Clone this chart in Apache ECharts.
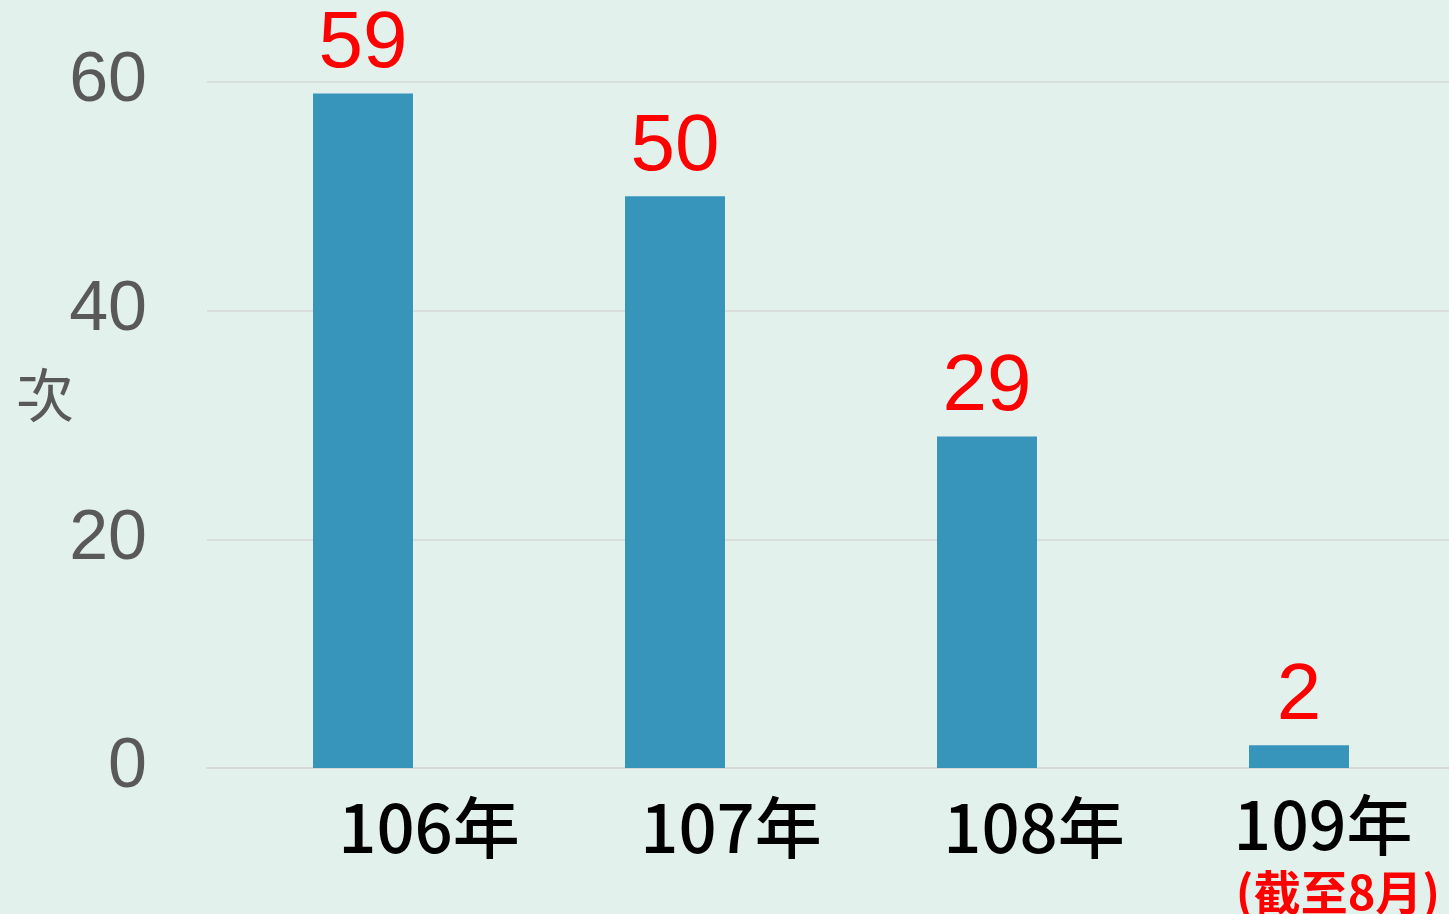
<!DOCTYPE html>
<html><head><meta charset="utf-8">
<script src="https://cdn.jsdelivr.net/npm/echarts@6/dist/echarts.min.js"></script>
<style>html,body{margin:0;padding:0;background:#e2f1ec;}#c{width:1449px;height:914px;}</style>
</head><body><div id="c"></div>
<script>
const categories = ['106年', '107年', '108年', '109年'];
const values = [59, 50, 29, 2];
const yTicks = [0, 20, 40, 60];
const noteLabel = '(截至8月)';
const yName = '次';

const chart = echarts.init(document.getElementById('c'));
chart.setOption({
  backgroundColor: '#e2f1ec',
  animation: false,
  grid: {left: 207, right: -6, top: 82, bottom: 146, containLabel: false, outerBoundsMode: 'none'},
  graphic: [{
    type: 'text', left: 16, top: 366,
    style: {text: yName, fontSize: 58, fill: '#595959', fontFamily: 'Noto Sans CJK TC'}
  }],
  xAxis: {
    type: 'category',
    data: categories,
    axisLine: {show: true, lineStyle: {color: '#d6d6d6', width: 1.5}},
    axisTick: {show: false},
    axisLabel: {
      margin: 26,
      interval: 0,
      formatter: function (v, i) {
        if (i === 3) return '{d|' + v + '}\n{n|' + noteLabel + '}';
        return '{' + ['a', 'b', 'c'][i] + '|' + v + '}';
      },
      rich: {
        a: {fontSize: 67, color: '#000', fontFamily: 'Noto Sans CJK TC', fontWeight: 500, lineHeight: 68, padding: [0, 0, 0, 132]},
        b: {fontSize: 67, color: '#000', fontFamily: 'Noto Sans CJK TC', fontWeight: 500, lineHeight: 68, padding: [0, 0, 0, 112]},
        c: {fontSize: 67, color: '#000', fontFamily: 'Noto Sans CJK TC', fontWeight: 500, lineHeight: 68, padding: [0, 0, 0, 94]},
        d: {fontSize: 66, color: '#000', fontFamily: 'Noto Sans CJK TC', fontWeight: 500, lineHeight: 62, padding: [0, 0, 0, 48]},
        n: {fontSize: 47, color: '#ff0000', fontWeight: 'bold', fontFamily: 'Noto Sans CJK TC', lineHeight: 72, padding: [0, 0, 0, 78]}
      }
    }
  },
  yAxis: {
    type: 'value',
    min: 0, max: 60, interval: 20,
    axisLine: {show: false},
    axisTick: {show: false},
    splitLine: {lineStyle: {color: '#d6d6d6', width: 1.5}},
    axisLabel: {
      margin: 60,
      fontSize: 70,
      color: '#595959',
      fontFamily: 'Liberation Sans',
      padding: [6, 0, 0, 0],
      formatter: function (v) { return yTicks.indexOf(v) >= 0 ? String(v) : ''; }
    }
  },
  series: [{
    type: 'bar',
    data: values,
    barWidth: 100,
    itemStyle: {color: '#3794bb'},
    label: {
      show: true,
      position: 'top',
      distance: 8,
      fontSize: 80,
      color: '#ff0000',
      fontFamily: 'Liberation Sans'
    }
  }]
});
</script></body></html>
